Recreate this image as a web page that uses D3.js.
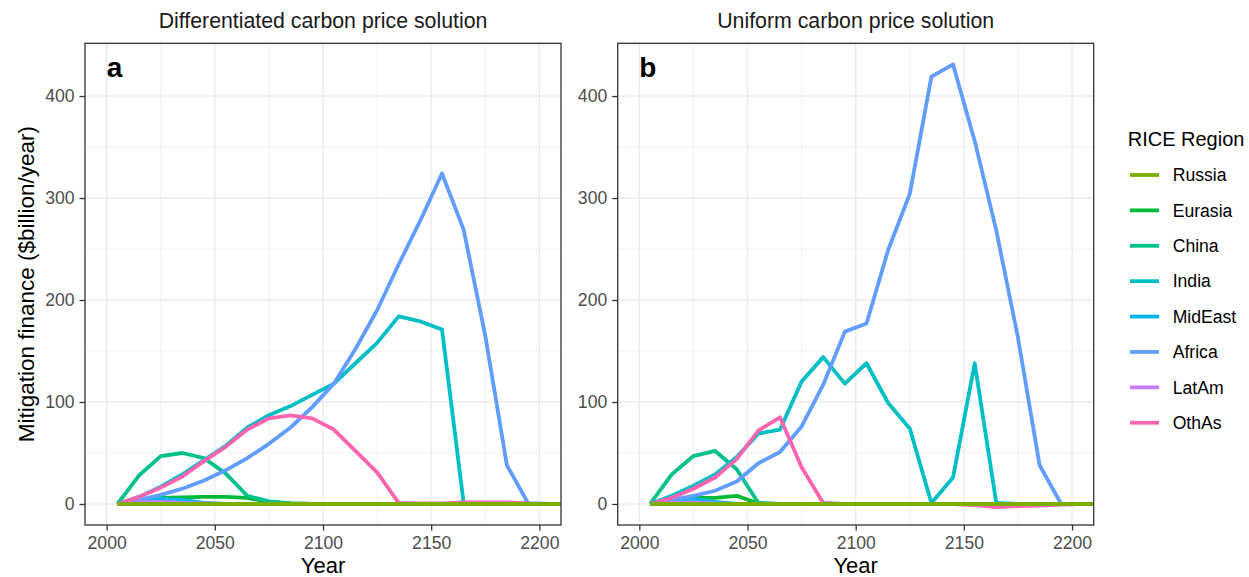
<!DOCTYPE html>
<html>
<head>
<meta charset="utf-8">
<script src="https://cdn.jsdelivr.net/npm/d3@7"></script>
<style>
  html, body { margin: 0; padding: 0; background: #fff; }
  svg { display: block; font-family: "Liberation Sans", Arial, Helvetica, sans-serif; }
</style>
</head>
<body>
<svg id="chart" width="1249" height="577"></svg>
<script>
// Model time steps (10-year periods)
const years = [2005, 2015, 2025, 2035, 2045, 2055, 2065, 2075, 2085, 2095, 2105,
               2115, 2125, 2135, 2145, 2155, 2165, 2175, 2185, 2195, 2205, 2215];

const regions = ["Russia", "Eurasia", "China", "India", "MidEast", "Africa", "LatAm", "OthAs"];
const regionColors = ["#7CAE00", "#00BA38", "#00C08B", "#00BFC4", "#00B4F0", "#619CFF", "#C77CFF", "#FF64B0"];

const panelTitles = ["Differentiated carbon price solution", "Uniform carbon price solution"];
const panelLetters = ["a", "b"];

const xTicks = [2000, 2050, 2100, 2150, 2200];
const xMinor = [2025, 2075, 2125, 2175];
const yTicks = [0, 100, 200, 300, 400];
const yMinor = [50, 150, 250, 350, 450];

// Mitigation finance ($billion/year), differentiated carbon price
const diffRussia  = [0, 0, 0, 0, 0, 0, 0, 0, 0, 0, 0, 0, 0, 0, 0, 0, 0, 0, 0, 0, 0, 0];
const diffEurasia = [0, 4, 6, 6.5, 7, 7, 6, 2, 0.5, 0, 0, 0, 0, 0, 0, 0, 0, 0, 0, 0, 0, 0];
const diffChina   = [0, 28, 47, 50, 45, 30, 8, 2.5, 0.5, 0, 0, 0, 0, 0, 0, 0, 0, 0, 0, 0, 0, 0];
const diffIndia   = [0, 7, 17, 29, 43, 57, 75, 87, 96, 107, 118, 138, 158, 184, 179, 171, 1, 0.5, 0.5, 0.5, 0, 0];
const diffMidEast = [0, 4.5, 5, 4, 1, 0, 0, 0, 0, 0, 0, 0, 0, 0, 0, 0, 0, 0, 0, 0, 0, 0];
const diffAfrica  = [0, 4, 9, 15, 23, 33, 45, 59, 75, 95, 118, 152, 190, 235, 278, 324, 269, 165, 38, 0, 0, 0];
const diffLatAm   = [0, 1.5, 2, 1, 0.5, 0, 0, 0, 0, 0, 0, 0, 0, 0, 0, 0, 0, 0, 0, 0, 0, 0];
const diffOthAs   = [0, 7, 16, 27, 42, 56, 73, 84, 87, 84, 73, 52, 31, 1, 0.5, 0.5, 1.5, 1.5, 1.5, 0.5, 0, 0];

// Mitigation finance ($billion/year), uniform carbon price
const unifRussia  = [0, 0, 0, 0, 0, 0, 0, 0, 0, 0, 0, 0, 0, 0, 0, 0, 0, 0, 0, 0, 0, 0];
const unifEurasia = [0, 3, 6, 6, 8, 0.5, 0, 0, 0, 0, 0, 0, 0, 0, 0, 0, 0, 0, 0, 0, 0, 0];
const unifChina   = [0, 29, 47, 52, 34, 1, 0, 0, 0, 0, 0, 0, 0, 0, 0, 0, 0, 0, 0, 0, 0, 0];
const unifIndia   = [0, 8, 18, 29, 46, 69, 73, 120, 144, 118, 138, 99, 74, 1, 26, 138, 1, 0, 0, 0, 0, 0];
const unifMidEast = [0, 4, 5, 2, 0, 0, 0, 0, 0, 0, 0, 0, 0, 0, 0, 0, 0, 0, 0, 0, 0, 0];
const unifAfrica  = [0, 4, 8, 13, 22, 40, 51, 76, 117, 169, 177, 249, 304, 419, 431, 356, 268, 163, 38, 0, 0, 0];
const unifLatAm   = [0, 1, 1.5, 0.5, 0, 0, 0, 0, 0, 0, 0, 0, 0, 0, 0, 0, 0, 0, 0, 0, 0, 0];
const unifOthAs   = [0, 6, 15, 26, 44, 72, 85, 36, 1, 0, 0, 0, 0, 0, 0, -1, -3, -2, -1.5, -0.5, 0, 0];

const panelSeries = [
  [diffRussia, diffEurasia, diffChina, diffIndia, diffMidEast, diffAfrica, diffLatAm, diffOthAs],
  [unifRussia, unifEurasia, unifChina, unifIndia, unifMidEast, unifAfrica, unifLatAm, unifOthAs]
];

// ---- layout ----
const svg = d3.select("#chart");
const font = '"Liberation Sans", Arial, Helvetica, sans-serif';
const panelTop = 43.3, panelBottom = 525;
const panelLefts = [85, 617.7];
const panelWidth = 476;
const lineWidth = 3.8;

const y = d3.scaleLinear().domain([-20.6, 451.7]).range([panelBottom, panelTop]);

svg.append("rect").attr("width", 1249).attr("height", 577).attr("fill", "#fff");

const defs = svg.append("defs");

panelLefts.forEach((left, p) => {
  const x = d3.scaleLinear().domain([1990, 2210]).range([left, left + panelWidth]);
  const g = svg.append("g");

  // clip region for the panel
  defs.append("clipPath").attr("id", "clip" + p)
    .append("rect").attr("x", left).attr("y", panelTop)
    .attr("width", panelWidth).attr("height", panelBottom - panelTop);

  // minor grid
  g.selectAll(".vminor").data(xMinor).join("line")
    .attr("x1", d => x(d)).attr("x2", d => x(d))
    .attr("y1", panelTop).attr("y2", panelBottom)
    .attr("stroke", "#EBEBEB").attr("stroke-width", 0.7);
  g.selectAll(".hminor").data(yMinor.filter(v => v < y.domain()[1])).join("line")
    .attr("x1", left).attr("x2", left + panelWidth)
    .attr("y1", d => y(d)).attr("y2", d => y(d))
    .attr("stroke", "#EBEBEB").attr("stroke-width", 0.7);
  // major grid
  g.selectAll(".vmajor").data(xTicks).join("line")
    .attr("x1", d => x(d)).attr("x2", d => x(d))
    .attr("y1", panelTop).attr("y2", panelBottom)
    .attr("stroke", "#EBEBEB").attr("stroke-width", 1.4);
  g.selectAll(".hmajor").data(yTicks).join("line")
    .attr("x1", left).attr("x2", left + panelWidth)
    .attr("y1", d => y(d)).attr("y2", d => y(d))
    .attr("stroke", "#EBEBEB").attr("stroke-width", 1.4);

  // series lines; Russia drawn last so it sits on top along zero
  const line = d3.line().x((d, i) => x(years[i])).y(d => y(d));
  const order = [1, 2, 3, 4, 5, 6, 7, 0];
  const lines = g.append("g").attr("clip-path", "url(#clip" + p + ")");
  order.forEach(r => {
    lines.append("path")
      .datum(panelSeries[p][r])
      .attr("d", line)
      .attr("fill", "none")
      .attr("stroke", regionColors[r])
      .attr("stroke-width", lineWidth)
      .attr("stroke-linejoin", "round")
      .attr("stroke-linecap", "butt");
  });

  // panel border
  g.append("rect").attr("x", left).attr("y", panelTop)
    .attr("width", panelWidth).attr("height", panelBottom - panelTop)
    .attr("fill", "none").attr("stroke", "#333333").attr("stroke-width", 1.3);

  // axes
  const xAxis = g.append("g").attr("transform", `translate(0,${panelBottom})`)
    .call(d3.axisBottom(x).tickValues(xTicks).tickFormat(d3.format("d")).tickSize(5.5).tickPadding(4));
  const yAxis = g.append("g").attr("transform", `translate(${left},0)`)
    .call(d3.axisLeft(y).tickValues(yTicks).tickSize(5.5).tickPadding(5));
  [xAxis, yAxis].forEach(a => {
    a.select(".domain").remove();
    a.selectAll(".tick line").attr("stroke", "#333333").attr("stroke-width", 1.3);
    a.selectAll(".tick text").attr("fill", "#4D4D4D")
      .style("font-size", "17.6px").style("font-family", font);
  });
  xAxis.selectAll(".tick text").attr("dy", null).attr("y", 24.3);

  // facet title
  svg.append("text").attr("x", left + panelWidth / 2).attr("y", 28.3)
    .attr("text-anchor", "middle").attr("fill", "#1A1A1A")
    .style("font-size", "21.3px").text(panelTitles[p]);

  // panel letter
  svg.append("text").attr("x", x(2000)).attr("y", 76.5)
    .attr("fill", "#000").style("font-weight", "bold").style("font-size", "28px")
    .text(panelLetters[p]);

  // x axis title
  svg.append("text").attr("x", left + panelWidth / 2).attr("y", 573)
    .attr("text-anchor", "middle").attr("fill", "#000")
    .style("font-size", "22px").text("Year");
});

// y axis title
svg.append("text")
  .attr("transform", `translate(34,${(panelTop + panelBottom) / 2}) rotate(-90)`)
  .attr("text-anchor", "middle").attr("fill", "#000")
  .style("font-size", "22.5px").text("Mitigation finance ($billion/year)");

// legend
const legend = svg.append("g");
legend.append("text").attr("x", 1127.7).attr("y", 146)
  .attr("fill", "#000").style("font-size", "20px").text("RICE Region");
const items = legend.selectAll(".item").data(regions).join("g")
  .attr("transform", (d, i) => `translate(0,${175 + i * 35.39})`);
items.append("line").attr("x1", 1130).attr("x2", 1159).attr("y1", 0).attr("y2", 0)
  .attr("stroke", (d, i) => regionColors[i]).attr("stroke-width", lineWidth);
items.append("text").attr("x", 1172.7).attr("y", 0).attr("dy", "0.35em")
  .attr("fill", "#000").style("font-size", "17.6px").text(d => d);
</script>
</body>
</html>
